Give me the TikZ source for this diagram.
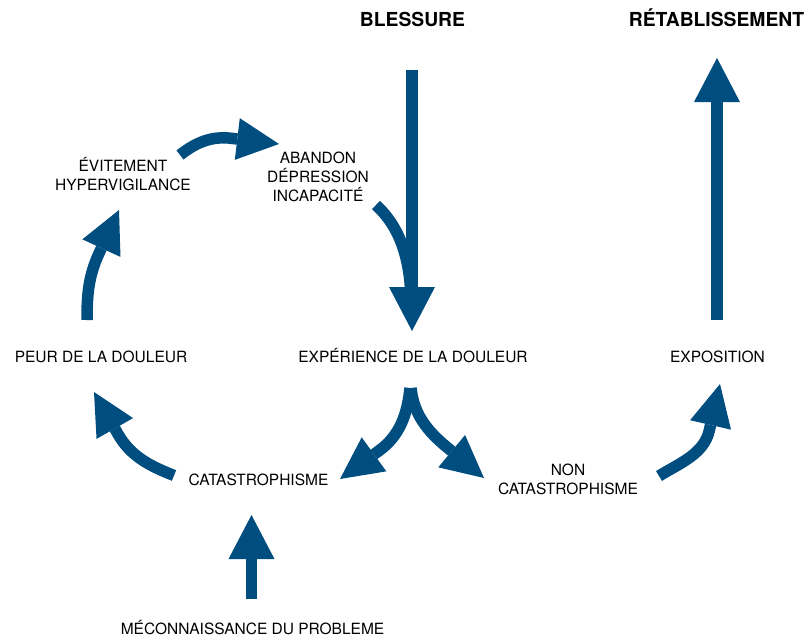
\documentclass[tikz,border=0pt]{standalone}
\usepackage{fontspec}
\setmainfont{TeX Gyre Heros}
\usetikzlibrary{arrows.meta}
\definecolor{arrowblue}{RGB}{0,77,128}
\begin{document}
\begin{tikzpicture}[x=1pt,y=-1pt,
  lbl/.style={font=\fontsize{15.5}{19}\selectfont, inner sep=0pt, anchor=base, align=center},
  ttl/.style={font=\fontsize{19.3}{23}\selectfont\bfseries, inner sep=0pt, anchor=base},
  shaft/.style={draw=arrowblue, line width=11.5pt, line join=round},
  bigarrow/.style={shaft, -{Triangle[length=44pt,width=46pt,line width=0pt]}},
  curvearrow/.style={shaft, -{Triangle[length=42pt,width=42pt,line width=0pt]}},
]
\useasboundingbox (0,0) rectangle (809,637);
% labels (base anchor = baseline of the last line)
\node[ttl] (blessure) at (412.5,26.7) {BLESSURE};
\node[ttl] (retab) at (716.5,26.7) {RÉTABLISSEMENT};
\node[lbl] (evit) at (123,190.7) {ÉVITEMENT\\HYPERVIGILANCE};
\node[lbl] (aband) at (318,201) {ABANDON\\DÉPRESSION\\INCAPACITÉ};
\node[lbl] (peur) at (101,362.7) {PEUR DE LA DOULEUR};
\node[lbl] (exper) at (413,362.7) {EXPÉRIENCE DE LA DOULEUR};
\node[lbl] (expo) at (717.5,362.7) {EXPOSITION};
\node[lbl] (catas) at (258.5,485.7) {CATASTROPHISME};
\node[lbl] (noncat) at (568,494.7) {NON\\CATASTROPHISME};
\node[lbl] (mecon) at (252.5,634) {MÉCONNAISSANCE DU PROBLEME};
% arrow end points
\coordinate (blS) at (412,70);   \coordinate (blT) at (412,331);
\coordinate (reS) at (717,320);  \coordinate (reT) at (717,58);
\coordinate (meS) at (251.5,599); \coordinate (meT) at (251.5,515);
\coordinate (evS) at (180,155);  \coordinate (evB) at (231.3,138.3); \coordinate (evT) at (279,144);
\coordinate (abS) at (376,205);  \coordinate (abE) at (411,300);
\coordinate (exL) at (410,388);  \coordinate (exR) at (411,388);
\coordinate (lB) at (378.9,450.8); \coordinate (lT) at (340,479);
\coordinate (rB) at (447,447.3); \coordinate (rT) at (484,478);
\coordinate (ncS) at (659,476);  \coordinate (ncB) at (709.2,430.8); \coordinate (ncT) at (720,384);
\coordinate (peS) at (87,320);   \coordinate (peB) at (98.9,253.6); \coordinate (peT) at (119,210);
\coordinate (caS) at (174,475.5); \coordinate (caB) at (117.8,433.8); \coordinate (caT) at (94,392);
% arrows
\draw[shaft, line join=miter] (abS) .. controls (392,220) and (410,245) .. (abE);
\draw[bigarrow] (blS) -- (blT);
\draw[bigarrow] (reS) -- (reT);
\draw[bigarrow] (meS) -- (meT);
\draw[curvearrow] (evS) .. controls (195.6,142.6) and (211.4,135.9) .. (evB) -- (evT);
\draw[curvearrow] (exL) .. controls (407.4,414) and (400,435.5) .. (lB) -- (lT);
\draw[curvearrow] (exR) .. controls (413.6,414) and (427,430.7) .. (rB) -- (rT);
\draw[curvearrow] (ncS) .. controls (679.4,463.3) and (703.8,454.2) .. (ncB) -- (ncT);
\draw[curvearrow] (peS) .. controls (87,295) and (88.4,276.3) .. (peB) -- (peT);
\draw[curvearrow] (caS) .. controls (149.8,465.9) and (130.7,456.4) .. (caB) -- (caT);
\end{tikzpicture}
\end{document}
